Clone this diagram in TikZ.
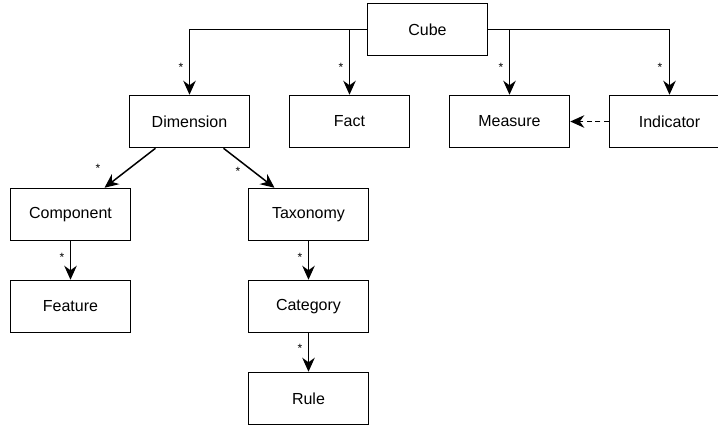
\documentclass[tikz,border=0pt]{standalone}
\usepackage{fontspec}
\setmainfont{Liberation Sans}
\usetikzlibrary{arrows.meta,calc}
\begin{document}
\begin{tikzpicture}[x=1pt,y=-1pt,
  box/.style={draw, line width=1.5pt, minimum width=120pt, minimum height=52pt,
    inner sep=0pt, font=\fontsize{16}{19}\selectfont},
  link/.style={line width=1.5pt, -{Stealth[length=14pt,width=12.5pt,inset=4.5pt]}},
  dep/.style={link, dash pattern=on 5pt off 3.5pt},
  mult/.style={font=\fontsize{12}{13}\selectfont, inner sep=0pt}]
\useasboundingbox (0,0) rectangle (718,424);
\fill[white] (0,0) rectangle (718,424);
\clip (0,0) rectangle (718,424);

% classes
\node[box] (cube) at (427.5,29.5) {Cube};
\node[box] (dim)  at (189.5,121.5) {Dimension};
\node[box] (fact) at (349.5,121.5) {Fact};
\node[box] (meas) at (509.5,121.5) {Measure};
\node[box] (ind)  at (669.5,121.5) {Indicator};
\node[box] (comp) at (70.5,214.5) {Component};
\node[box] (tax)  at (308.5,214.5) {Taxonomy};
\node[box] (feat) at (70.5,306.5) {Feature};
\node[box] (cat)  at (308.5,306.5) {Category};
\node[box] (rule) at (308.5,398.5) {Rule};

% associations
\draw[link] (cube.west) -| (dim.north);
\draw[link] (cube.west) -| (fact.north);
\draw[link] (cube.east) -| (meas.north);
\draw[link] (cube.east) -| (ind.north);
\draw[dep] (ind.west) -- (meas.east);
\draw[link] ([xshift=-34pt]dim.south) -- ([xshift=34pt]comp.north);
\draw[link] ([xshift=34pt]dim.south) -- ([xshift=-34pt]tax.north);
\draw[link] (comp.south) -- (feat.north);
\draw[link] (tax.south) -- (cat.north);
\draw[link] (cat.south) -- (rule.north);

% multiplicities
\node[mult] (m1) at (181,67) {*};
\node[mult] (m2) at (341,67) {*};
\node[mult] (m3) at (501,67) {*};
\node[mult] (m4) at (660,67) {*};
\node[mult] (m5) at (98,168) {*};
\node[mult] (m6) at (238,171) {*};
\node[mult] (m7) at (62,257) {*};
\node[mult] (m8) at (300,257) {*};
\node[mult] (m9) at (300,348) {*};
\end{tikzpicture}
\end{document}
